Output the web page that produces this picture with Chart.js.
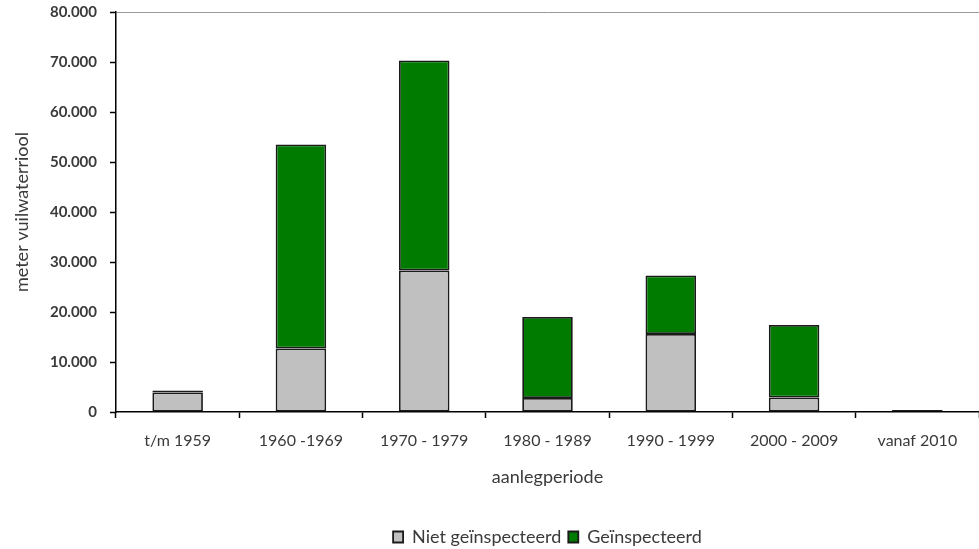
<!DOCTYPE html>
<html lang="nl">
<head>
  <meta charset="UTF-8">
  <title>Vuilwaterriool per aanlegperiode</title>
  <script src="https://cdn.jsdelivr.net/npm/chart.js"></script>
  <style>
    html, body { margin: 0; padding: 0; background: #fff; }
    #wrap { width: 979px; height: 549px; position: relative; }
  </style>
</head>
<body>
  <div id="wrap"><canvas id="chart"></canvas></div>

<script>
// data
const perioden = ["t/m 1959", "1960 -1969", "1970 - 1979", "1980 - 1989", "1990 - 1999", "2000 - 2009", "vanaf 2010"];
const nietGeinspecteerd = [3900, 12700, 28300, 2800, 15600, 2900, 100];
const geinspecteerd = [400, 40800, 42000, 16200, 11700, 14500, 300];
const yTicks = [0, 10000, 20000, 30000, 40000, 50000, 60000, 70000, 80000];

function puntjes(v) {
  return String(v).replace(/\B(?=(\d{3})+(?!\d))/g, ".");
}

const tekst = "#3a3a3a";

new Chart(document.getElementById("chart"), {
  type: "bar",
  data: {
    labels: perioden,
    datasets: [
      {
        label: "Niet geïnspecteerd",
        data: nietGeinspecteerd,
        backgroundColor: "#c0c0c0",
        borderColor: "#1a1a1a",
        borderWidth: 1.8,
        borderSkipped: false
      },
      {
        label: "Geïnspecteerd",
        data: geinspecteerd,
        backgroundColor: "#007b00",
        borderColor: "#1a1a1a",
        borderWidth: 1.8,
        borderSkipped: false
      }
    ]
  },
  options: {
    responsive: true,
    maintainAspectRatio: false,
    animation: false,
    // negatieve onderpadding zodat de legenda lager staat
    layout: { padding: { top: 12, right: 0, left: 8, bottom: -7 } },
    datasets: { bar: { barPercentage: 0.41, categoryPercentage: 1 } },
    plugins: {
      legend: {
        position: "bottom",
        fullSize: false,
        labels: {
          boxWidth: 10,
          boxHeight: 11,
          padding: 7,
          color: tekst,
          font: { family: "Lato", size: 18 }
        }
      },
      tooltip: { enabled: false }
    },
    scales: {
      x: {
        stacked: true,
        afterFit: axis => { axis.height = 109; },
        border: { color: "#000", width: 1.5 },
        grid: { drawOnChartArea: false, tickLength: 6, tickColor: "#000", tickWidth: 1.5 },
        ticks: { color: tekst, padding: 13, maxRotation: 0, font: { family: "Lato", size: 16 } },
        title: {
          display: true,
          text: "aanlegperiode",
          color: tekst,
          padding: { top: 4, bottom: 33 },
          font: { family: "Lato", size: 18 }
        }
      },
      y: {
        stacked: true,
        min: 0,
        max: 80000,
        afterBuildTicks: axis => { axis.ticks = yTicks.map(v => ({ value: v })); },
        // vaste breedte en geen extra ruimte boven
        afterFit: axis => { axis.width = 108; axis.paddingTop = 6; },
        border: { color: "#000", width: 1.5 },
        grid: {
          color: ctx => (ctx.tick && ctx.tick.value === 80000 ? "#999" : "rgba(0,0,0,0)"),
          tickColor: "#000",
          tickLength: 6,
          tickWidth: 1.5
        },
        ticks: {
          color: tekst,
          padding: 13,
          font: { family: "Lato", size: 15, weight: "bold" },
          callback: v => puntjes(v)
        },
        title: {
          display: true,
          text: "meter vuilwaterriool",
          color: tekst,
          padding: { top: 3, bottom: 3 },
          font: { family: "Lato", size: 18 }
        }
      }
    }
  }
});
</script>
</body>
</html>
